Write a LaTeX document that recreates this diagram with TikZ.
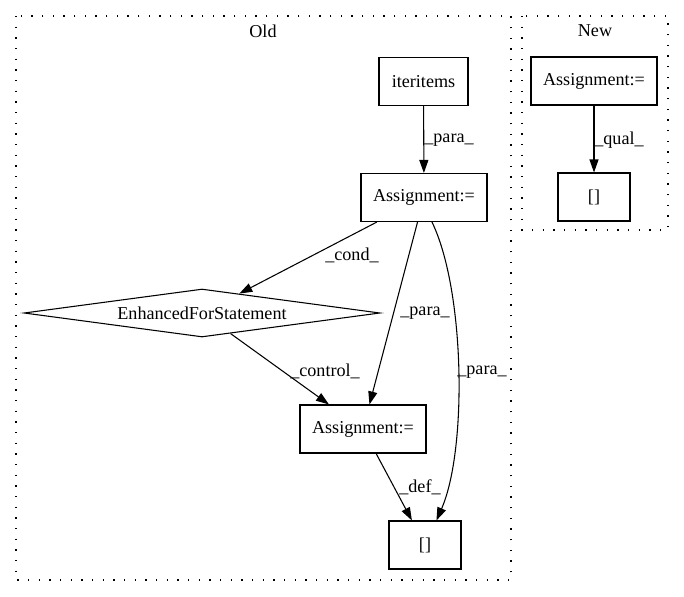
\documentclass[tikz,border=0pt]{standalone}
\usepackage{fontspec}
\setmainfont{Liberation Serif}
\usetikzlibrary{arrows.meta,shapes.geometric}

\begin{document}
\begin{tikzpicture}[x=0.75pt,y=0.75pt,yscale=-1,xscale=1,
  every node/.style={font=\fontsize{13.6}{16}\selectfont},
  box/.style={draw, line width=0.8pt, inner sep=0pt, minimum height=36pt},
  cond/.style={draw, diamond, aspect=7, inner sep=0pt, minimum width=267pt, minimum height=36pt, line width=0.8pt},
  edge/.style={line width=0.8pt, -{Triangle[length=9.75pt,width=6.75pt]}},
  cluster/.style={line width=0.9pt, dash pattern=on 1pt off 7pt}]
\useasboundingbox (0,0) rectangle (684,596);

%Shape: Rectangle
\draw[cluster] (16,16) rectangle (511,580);
%Shape: Rectangle
\draw[cluster] (522,16) rectangle (668,230);

% Text Node
\node (oldlbl) at (263,31) {Old};
% Text Node
\node (newlbl) at (595,31) {New};

%Shape: Rectangle
\node[box, minimum width=66.75pt] (iteritems) at (423.5,81.5) {iteritems};
\node[box, minimum width=94.5pt] (assign1) at (424,197.5) {Assignment:=};
%Shape: Diamond
\node[cond] (forstmt) at (202,313) {EnhancedForStatement};
%Shape: Rectangle
\node[box, minimum width=94.5pt] (assign2) at (363,429) {Assignment:=};
\node[box, minimum width=54pt] (idx1) at (425,545) {[]};
\node[box, minimum width=94.5pt] (assign3) at (594,81) {Assignment:=};
\node[box, minimum width=54pt] (idx2) at (594,197) {[]};

%Straight Lines
\draw[edge] (iteritems) -- (assign1);
\draw[edge] (assign1) -- (forstmt);
\draw[edge] (assign1) -- (assign2);
%Curve Lines
\draw[edge] (assign1.-72) .. controls +(33,68) and +(31,-71) .. (idx1.65);
%Straight Lines
\draw[edge] (forstmt) -- (assign2);
\draw[edge] (assign2) -- (idx1);
\draw[edge] (assign3) -- (idx2);

% Text Node
\node (para1) at (449,140) {\_para\_};
% Text Node
\node (cond1) at (352,255) {\_cond\_};
% Text Node
\node (para2) at (425,313) {\_para\_};
% Text Node
\node (para3) at (482,372) {\_para\_};
% Text Node
\node (ctrl1) at (325,371) {\_control\_};
% Text Node
\node (def1) at (420,487) {\_def\_};
% Text Node
\node (qual1) at (619,140) {\_qual\_};

\end{tikzpicture}
\end{document}
